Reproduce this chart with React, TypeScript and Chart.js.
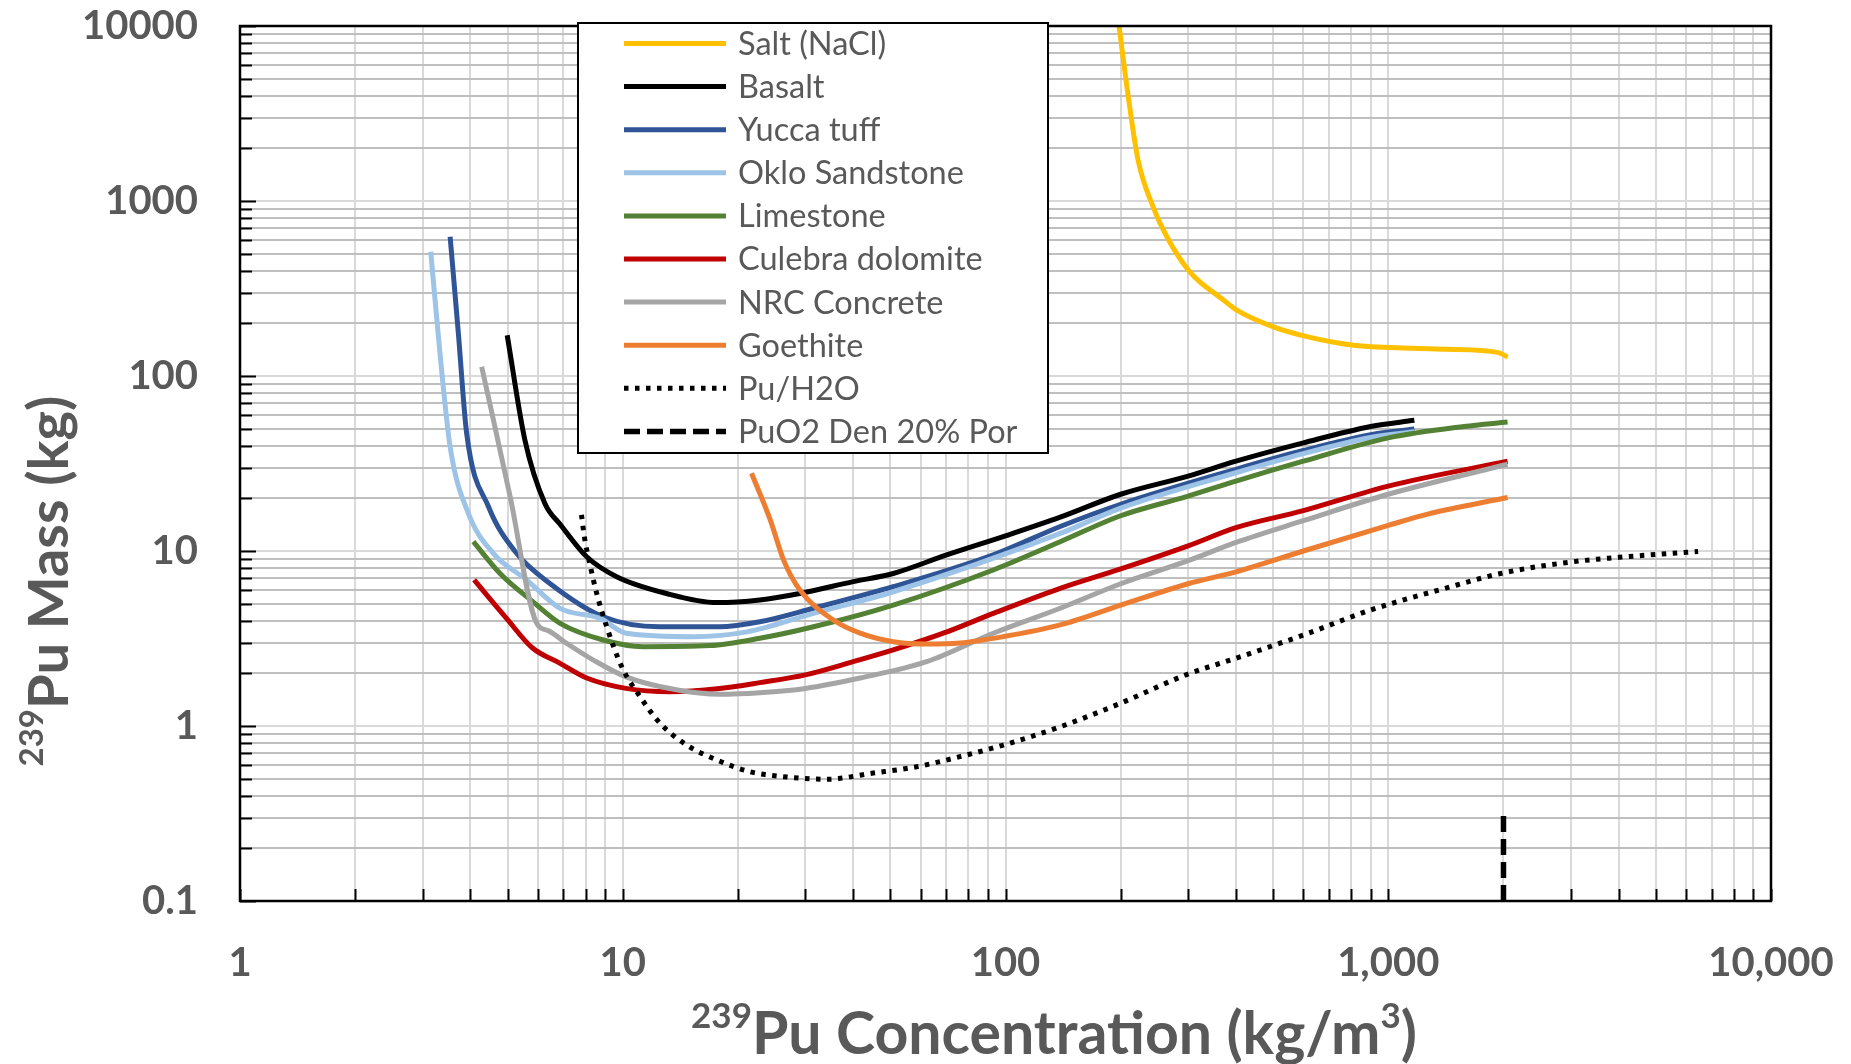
import React, { useEffect, useRef } from 'react';
import { Chart, registerables } from 'chart.js';

Chart.register(...registerables);

// ---------------- DATA ----------------
const SERIES_NAMES = [
  'Salt (NaCl)',
  'Basalt',
  'Yucca tuff',
  'Oklo Sandstone',
  'Limestone',
  'Culebra dolomite',
  'NRC Concrete',
  'Goethite',
  'Pu/H2O',
  'PuO2 Den 20% Por',
];

const saltX = [198, 207, 222, 243, 264, 303, 371, 402, 501, 613, 811, 1164, 1422, 1941, 2050];
const saltY = [10000, 4705, 1714, 927, 625, 394, 272, 238, 191, 168, 150, 144, 142, 136, 128];

const basaltX = [4.99, 5.55, 6.26, 6.9, 8.05, 9.64, 13, 17.6, 22.8, 29, 40, 50.9, 70.2, 100, 139, 200, 300, 400, 600, 900, 1170];
const basaltY = [171, 43.1, 18.7, 14, 9.27, 7.13, 5.72, 5.07, 5.25, 5.72, 6.68, 7.44, 9.5, 12.2, 15.6, 21.1, 26.8, 32.6, 41.5, 51.5, 55.8];

const yuccaX = [3.54, 3.72, 3.91, 4.46, 5.28, 6.45, 8.89, 12.5, 17.9, 22.8, 31.5, 50.9, 92.9, 139, 200, 400, 600, 900, 1170];
const yuccaY = [625, 175, 47, 17.9, 9.7, 6.53, 4.21, 3.69, 3.69, 3.94, 4.71, 6.25, 9.5, 13.8, 18.5, 29.3, 37.5, 46.2, 49.8];

const okloX = [3.15, 3.33, 3.54, 3.95, 4.59, 5.61, 6.86, 8.72, 10.2, 15.3, 21.1, 31.5, 50.9, 139, 200, 400, 600, 900, 1170];
const okloY = [513, 135, 39.4, 16.4, 9.7, 6.83, 4.7, 4.12, 3.39, 3.24, 3.45, 4.4, 5.85, 12.6, 17.6, 28, 36, 44.5, 48];

const limestoneX = [4.07, 4.78, 5.84, 6.86, 8.89, 11.3, 16.9, 22.8, 31.5, 50.9, 92.9, 139, 200, 300, 400, 600, 1000, 1578, 2050];
const limestoneY = [11.3, 7.44, 5.1, 3.86, 3.1, 2.84, 2.88, 3.17, 3.69, 4.91, 7.79, 11.3, 15.9, 20.6, 25.1, 32.6, 44.3, 51.5, 54.6];

const culebraX = [4.09, 4.97, 5.8, 6.86, 8.05, 10.2, 13.3, 17.9, 22.8, 30, 40, 50.9, 68.8, 92.9, 139, 200, 300, 400, 600, 1000, 2050];
const culebraY = [6.83, 4.12, 2.8, 2.28, 1.88, 1.64, 1.57, 1.64, 1.77, 1.96, 2.33, 2.72, 3.39, 4.4, 6.12, 7.9, 10.7, 13.6, 17, 23.5, 32.6];

const nrcX = [4.28, 5.08, 5.93, 6.4, 7.15, 8.38, 10.2, 13.8, 17.9, 22.8, 30, 41.7, 62.2, 92.9, 139, 200, 300, 400, 600, 1000, 2050];
const nrcY = [113, 20.4, 3.95, 3.5, 2.96, 2.38, 1.91, 1.61, 1.52, 1.55, 1.64, 1.88, 2.33, 3.39, 4.71, 6.5, 8.8, 11.2, 14.9, 21.1, 31.3];

const goethiteX = [21.7, 24.3, 26.3, 29, 35.5, 41.7, 50.9, 62.2, 76, 98.7, 139, 200, 300, 400, 600, 1000, 1274, 2050];
const goethiteY = [27.8, 15, 8.9, 6.0, 4.03, 3.39, 3.03, 2.94, 2.98, 3.24, 3.78, 4.9, 6.5, 7.6, 10, 14, 16.3, 20.2];

const puH2OX = [7.8, 7.96, 8.15, 8.55, 9.08, 9.94, 11.1, 12.5, 14.7, 17.6, 21.5, 27.9, 34.1, 44.7, 58.6, 76, 98.7, 139, 200, 296, 400, 600, 900, 1400, 2000, 3000, 4000, 5000, 6450];
const puH2OY = [16.1, 11.6, 9, 5.72, 3.69, 2.18, 1.47, 1.04, 0.778, 0.64, 0.548, 0.507, 0.496, 0.537, 0.585, 0.668, 0.778, 0.99, 1.35, 1.96, 2.44, 3.31, 4.6, 6.1, 7.5, 8.65, 9.2, 9.55, 9.93];

const puO2X = [2000, 2000];
const puO2Y = [0.1, 0.31];

const X_MAJOR = [1, 10, 100, 1000, 10000];
const X_TICK_LABELS = ['1', '10', '100', '1,000', '10,000'];
const Y_MAJOR = [0.1, 1, 10, 100, 1000, 10000];
const Y_TICK_LABELS = ['0.1', '1', '10', '100', '1000', '10000'];

const X_TITLE = [
  { t: '239', sup: true },
  { t: 'Pu Concentration (kg/m', sup: false },
  { t: '3', sup: true },
  { t: ')', sup: false },
];
const Y_TITLE = [
  { t: '239', sup: true },
  { t: 'Pu Mass (kg)', sup: false },
];

// ---------------- STYLES ----------------
const SERIES_DATA = [
  [saltX, saltY],
  [basaltX, basaltY],
  [yuccaX, yuccaY],
  [okloX, okloY],
  [limestoneX, limestoneY],
  [culebraX, culebraY],
  [nrcX, nrcY],
  [goethiteX, goethiteY],
  [puH2OX, puH2OY],
  [puO2X, puO2Y],
];
const SERIES_COLORS = ['#ffc000', '#000000', '#2f5597', '#9dc3e6', '#548235', '#c00000', '#a5a5a5', '#ed7d31', '#000000', '#000000'];
const SERIES_DASH: number[][] = [[], [], [], [], [], [], [], [], [4.5, 6.5], [16, 7]];
const SERIES_WIDTH = [5, 5, 5, 5, 5, 5, 5, 5, 5, 5.5];

const FONT = 'Lato, "Open Sans", "DejaVu Sans", sans-serif';
const TEXT_COLOR = '#595959';

function toPoints(xs: number[], ys: number[]) {
  return xs.map((x, i) => ({ x, y: ys[i] }));
}

function allTicks(majors: number[]) {
  const out: number[] = [];
  for (let i = 0; i < majors.length - 1; i++) {
    out.push(majors[i]);
    for (let m = 2; m <= 9; m++) out.push(parseFloat((m * majors[i]).toPrecision(8)));
  }
  out.push(majors[majors.length - 1]);
  return out;
}

function drawRich(ctx: CanvasRenderingContext2D, parts: { t: string; sup: boolean }[], cx: number, baseY: number, mainSize: number, supSize: number, raise: number) {
  const fontFor = (sup: boolean) => `bold ${sup ? supSize : mainSize}px ${FONT}`;
  let total = 0;
  const widths = parts.map((p) => {
    ctx.font = fontFor(p.sup);
    const w = ctx.measureText(p.t).width;
    total += w;
    return w;
  });
  let x = cx - total / 2;
  ctx.textAlign = 'left';
  ctx.textBaseline = 'alphabetic';
  ctx.fillStyle = TEXT_COLOR;
  parts.forEach((p, i) => {
    ctx.font = fontFor(p.sup);
    ctx.fillText(p.t, x, p.sup ? baseY - raise : baseY);
    x += widths[i];
  });
}

const decorPlugin = {
  id: 'decor',
  afterDatasetsDraw(chart: any) {
    const { ctx, chartArea: a, scales } = chart;
    ctx.save();
    ctx.strokeStyle = '#000';
    ctx.lineWidth = 2;
    ctx.setLineDash([]);
    scales.y.ticks.forEach((t: any) => {
      const py = Math.round(scales.y.getPixelForValue(t.value)) + 0.5;
      const len = Y_MAJOR.includes(t.value) ? 16 : 12;
      ctx.beginPath();
      ctx.moveTo(a.left, py);
      ctx.lineTo(a.left + len, py);
      ctx.stroke();
    });
    scales.x.ticks.forEach((t: any) => {
      const px = Math.round(scales.x.getPixelForValue(t.value)) + 0.5;
      ctx.beginPath();
      ctx.moveTo(px, a.bottom);
      ctx.lineTo(px, a.bottom - 12);
      ctx.stroke();
    });
    ctx.lineWidth = 2.5;
    ctx.strokeRect(a.left, a.top, a.right - a.left, a.bottom - a.top);
    ctx.restore();
  },
  afterDraw(chart: any) {
    const { ctx } = chart;
    ctx.save();
    const L = { left: 578, top: 23, right: 1048, bottom: 453, x0: 624, x1: 726, tx: 738, row0: 43.5, step: 43.1 };
    ctx.fillStyle = '#ffffff';
    ctx.fillRect(L.left, L.top, L.right - L.left, L.bottom - L.top);
    ctx.strokeStyle = '#000';
    ctx.lineWidth = 2;
    ctx.strokeRect(L.left, L.top, L.right - L.left, L.bottom - L.top);
    chart.data.datasets.forEach((ds: any, i: number) => {
      const y = L.row0 + i * L.step;
      ctx.strokeStyle = ds.borderColor;
      ctx.lineWidth = ds.borderWidth;
      ctx.setLineDash(ds.borderDash || []);
      ctx.lineCap = 'butt';
      ctx.beginPath();
      ctx.moveTo(L.x0, y);
      ctx.lineTo(L.x1, y);
      ctx.stroke();
      ctx.setLineDash([]);
      ctx.fillStyle = TEXT_COLOR;
      ctx.font = `32.5px ${FONT}`;
      ctx.textAlign = 'left';
      ctx.textBaseline = 'middle';
      ctx.fillText(ds.label, L.tx, y + 1);
    });
    drawRich(ctx, X_TITLE, 1054, 1054, 59, 35, 26);
    ctx.save();
    ctx.translate(68, 581);
    ctx.rotate(-Math.PI / 2);
    drawRich(ctx, Y_TITLE, 0, 0, 56, 33, 25);
    ctx.restore();
    ctx.restore();
  },
};

export default function App() {
  const ref = useRef<HTMLCanvasElement | null>(null);

  useEffect(() => {
    if (!ref.current) return;
    const datasets = SERIES_NAMES.map((name, i) => ({
      label: name,
      data: toPoints(SERIES_DATA[i][0], SERIES_DATA[i][1]),
      borderColor: SERIES_COLORS[i],
      backgroundColor: SERIES_COLORS[i],
      borderWidth: SERIES_WIDTH[i],
      borderDash: SERIES_DASH[i],
      borderCapStyle: 'butt',
      pointRadius: 0,
      pointHoverRadius: 0,
      fill: false,
      cubicInterpolationMode: i === 9 ? 'default' : 'monotone',
      tension: 0,
      order: 20 - i,
    }));

    const chart = new Chart(ref.current, {
      type: 'line',
      data: { datasets } as any,
      plugins: [decorPlugin],
      options: {
        responsive: false,
        maintainAspectRatio: false,
        devicePixelRatio: 1,
        animation: false,
        events: [],
        layout: { padding: { top: 26, right: 80, left: 0, bottom: 0 } },
        plugins: {
          legend: { display: false },
          tooltip: { enabled: false },
          title: { display: false },
        },
        scales: {
          x: {
            type: 'logarithmic',
            min: 1,
            max: 10000,
            afterBuildTicks: (s: any) => {
              s.ticks = allTicks(X_MAJOR).map((v) => ({ value: v }));
            },
            afterFit: (s: any) => {
              s.height = 163;
              s.paddingLeft = 0;
              s.paddingRight = 0;
              s.paddingTop = 0;
              s.paddingBottom = 0;
            },
            ticks: {
              autoSkip: false,
              maxRotation: 0,
              minRotation: 0,
              padding: 38,
              color: TEXT_COLOR,
              font: { family: FONT, size: 40, weight: 'bold' },
              callback: (v: any) => {
                const i = X_MAJOR.indexOf(Number(v));
                return i >= 0 ? X_TICK_LABELS[i] : '';
              },
            },
            grid: { color: '#d9d9d9', lineWidth: 2, drawTicks: false },
            border: { display: false },
          },
          y: {
            type: 'logarithmic',
            min: 0.1,
            max: 10000,
            afterBuildTicks: (s: any) => {
              s.ticks = allTicks(Y_MAJOR).map((v) => ({ value: v }));
            },
            afterFit: (s: any) => {
              s.width = 240;
              s.paddingLeft = 0;
              s.paddingRight = 0;
              s.paddingTop = 0;
              s.paddingBottom = 0;
            },
            ticks: {
              autoSkip: false,
              padding: 42,
              color: TEXT_COLOR,
              font: { family: FONT, size: 40, weight: 'bold' },
              callback: (v: any) => {
                const i = Y_MAJOR.indexOf(Number(v));
                return i >= 0 ? Y_TICK_LABELS[i] : '';
              },
            },
            grid: {
              color: (c: any) => (c.tick && Y_MAJOR.includes(c.tick.value) ? '#d9d9d9' : '#bfbfbf'),
              lineWidth: 2,
              drawTicks: false,
            },
            border: { display: false },
          },
        },
      } as any,
    });
    return () => chart.destroy();
  }, []);

  return (
    <div style={{ position: 'absolute', left: 0, top: 0, width: 1851, height: 1064, background: '#ffffff' }}>
      <canvas ref={ref} width={1851} height={1064} style={{ display: 'block', width: 1851, height: 1064 }} />
    </div>
  );
}
